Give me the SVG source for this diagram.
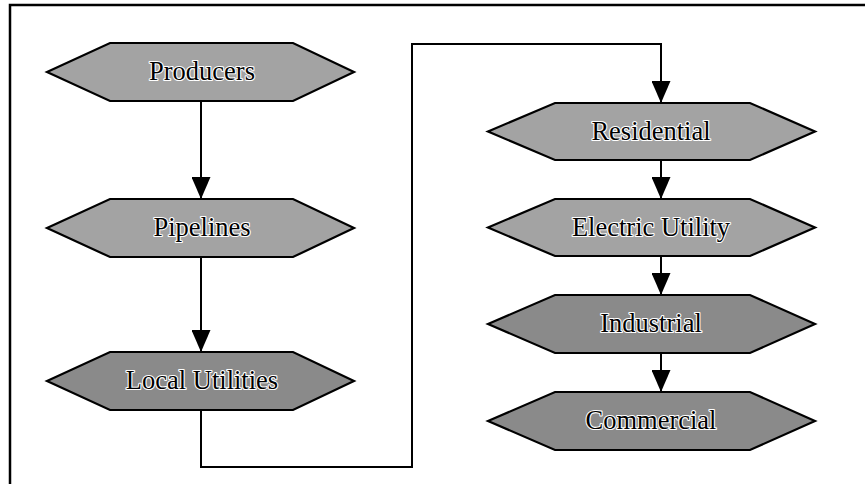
<svg xmlns="http://www.w3.org/2000/svg" width="865" height="484" viewBox="0 0 865 484">
<style>
.hex{stroke:#000;stroke-width:2.2;stroke-linejoin:miter}
.light{fill:#a3a3a3}
.dark{fill:#8a8a8a}
.lbl{font-family:"Liberation Serif","Times New Roman",serif;font-size:26.5px;fill:#000;text-anchor:middle;stroke:#fff;stroke-width:2.2;paint-order:stroke;stroke-linejoin:round}
.conn{fill:none;stroke:#000;stroke-width:2}
.frame{fill:none;stroke:#000;stroke-width:2.5}
</style>
<defs>
<marker id="arr" viewBox="0 0 22 19" refX="22" refY="9.5" markerWidth="22" markerHeight="19" markerUnits="userSpaceOnUse" orient="auto">
<path d="M0,0 L22,9.5 L0,19 Z" fill="#000"/>
</marker>
</defs>
<rect width="865" height="484" fill="#fff"/>
<path class="frame" d="M10,484 V5 H865"/>
<g id="connectors">
<path class="conn" d="M201,101 V199" marker-end="url(#arr)"/>
<path class="conn" d="M201,257 V352" marker-end="url(#arr)"/>
<path class="conn" d="M201,410 V467 H412 V44 H661 V103" marker-end="url(#arr)"/>
<path class="conn" d="M661,160 V199" marker-end="url(#arr)"/>
<path class="conn" d="M661,256 V295" marker-end="url(#arr)"/>
<path class="conn" d="M661,353 V392" marker-end="url(#arr)"/>
</g>
<g id="producers">
<polygon class="hex light" points="47,72 110,43 293,43 354,72 293,101 110,101"/>
<text class="lbl" x="202" y="80">Producers</text>
</g>
<g id="pipelines">
<polygon class="hex light" points="47,228 110,199 293,199 354,228 293,257 110,257"/>
<text class="lbl" x="202" y="236">Pipelines</text>
</g>
<g id="local-utilities">
<polygon class="hex dark" points="47,381 110,352 293,352 354,381 293,410 110,410"/>
<text class="lbl" x="202" y="389">Local Utilities</text>
</g>
<g id="residential">
<polygon class="hex light" points="488,131.5 555,103 750,103 815,131.5 750,160 555,160"/>
<text class="lbl" x="651" y="140">Residential</text>
</g>
<g id="electric-utility">
<polygon class="hex light" points="488,227.5 555,199 750,199 815,227.5 750,256 555,256"/>
<text class="lbl" x="651" y="236">Electric Utility</text>
</g>
<g id="industrial">
<polygon class="hex dark" points="488,324 555,295 750,295 815,324 750,353 555,353"/>
<text class="lbl" x="651" y="332">Industrial</text>
</g>
<g id="commercial">
<polygon class="hex dark" points="488,421 555,392 750,392 815,421 750,450 555,450"/>
<text class="lbl" x="651" y="429">Commercial</text>
</g>
</svg>
